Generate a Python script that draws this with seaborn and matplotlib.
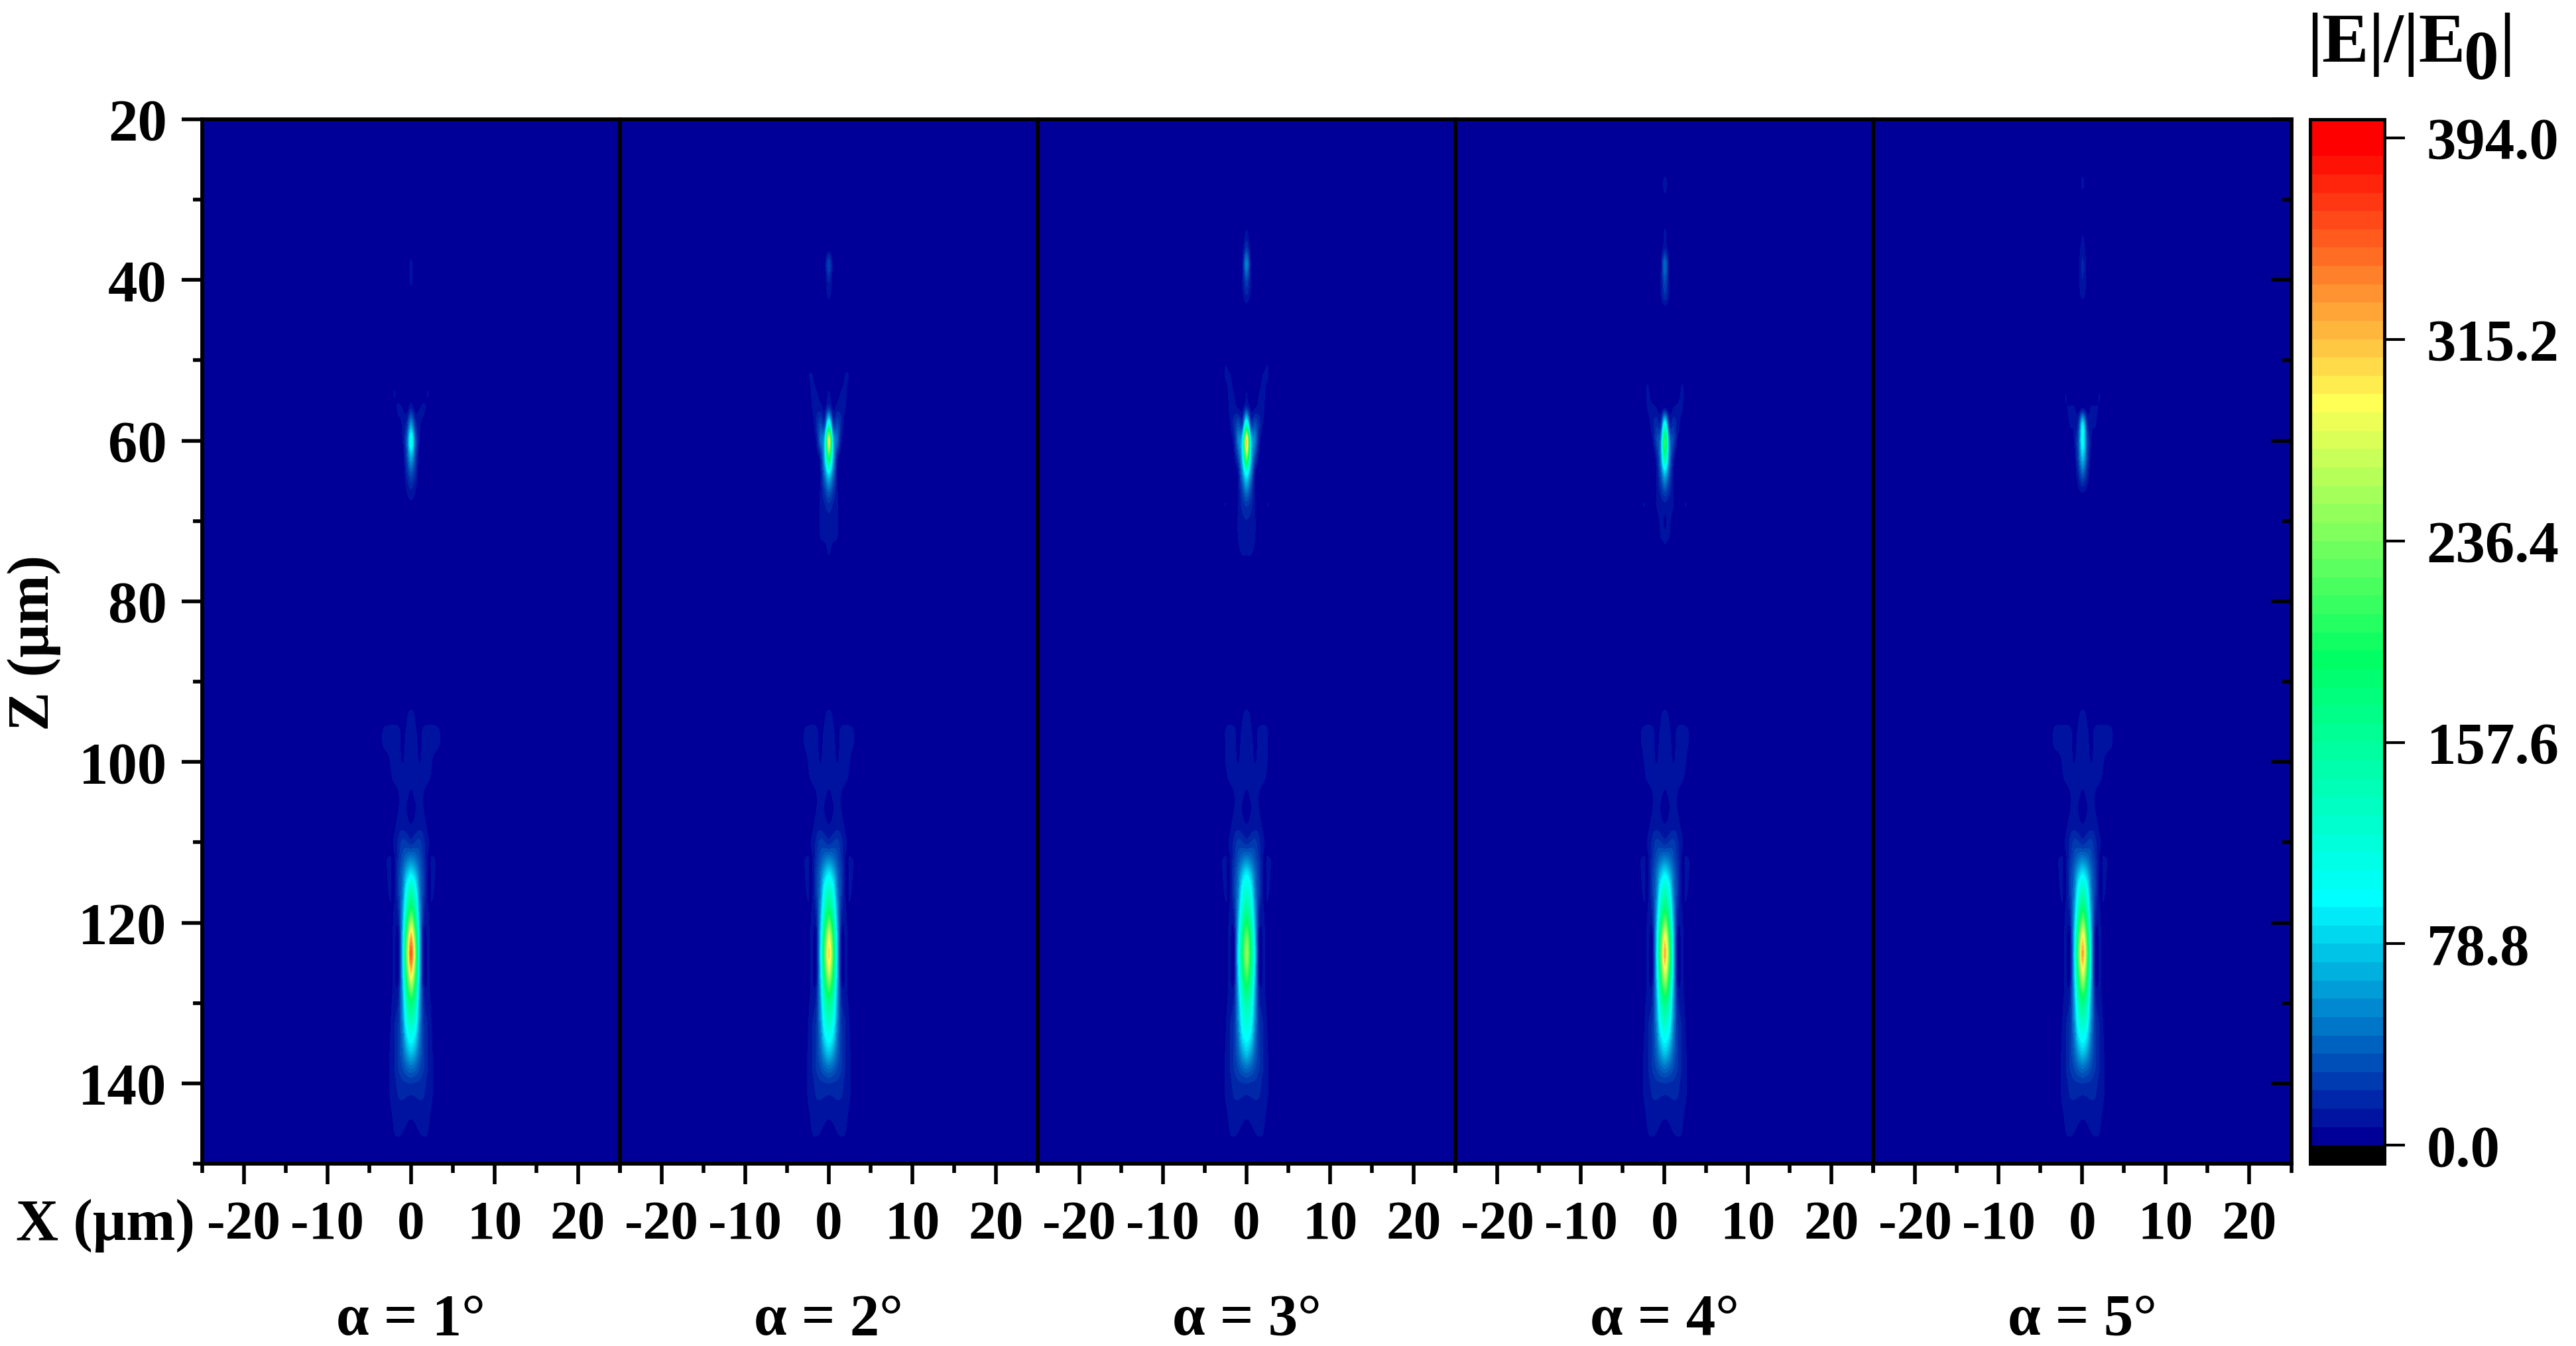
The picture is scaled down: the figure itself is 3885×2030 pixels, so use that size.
import numpy as np
import matplotlib
matplotlib.use("Agg")
import matplotlib.pyplot as plt
from matplotlib.colors import ListedColormap, BoundaryNorm
from matplotlib.ticker import FixedLocator, NullFormatter
import seaborn as sns

W, H, DPI = 3885, 2030, 100

ALPHA_LABELS = ["α = 1°", "α = 2°", "α = 3°", "α = 4°", "α = 5°"]
X_MAJOR = [-20, -10, 0, 10, 20]
X_MINOR = [-25, -15, -5, 5, 15, 25]
X_LABELS = ["-20", "-10", "0", "10", "20"]
Z_MAJOR = [20, 40, 60, 80, 100, 120, 140]
Z_MINOR = [30, 50, 70, 90, 110, 130, 150]
CBAR_TICKS = [0.0, 78.8, 157.6, 236.4, 315.2, 394.0]
CBAR_LABELS = ["0.0", "78.8", "157.6", "236.4", "315.2", "394.0"]

# |x| columns of every field table, micrometres
ABS_X = [0, 0.5, 1, 1.5, 2, 2.5, 3, 3.5, 4]

LOWER_ROWS = {
    92: [2, 1],
    94: [8.5, 6],
    96: [9.5, 8, 5, 8.5, 10, 9.5, 9, 6],
    98: [10, 9, 6, 9, 10, 10, 9, 6],
    100: [10, 9.5, 7, 9, 10, 7.2, 2],
    102: [9, 9.5, 10, 10, 9, 5],
    104: [6.5, 8, 9, 7, 3, 1],
    106: [5, 7, 9, 7.2, 2],
    108: [8, 10, 12, 11, 5, 1],
    110: [18, 22, 24, 16, 9, 2],
    112: [50, 44, 32, 20, 6.5, 7.8, 6],
    114: [93, 75, 44, 24, 6.5, 8, 6],
    116: [145, 110, 50, 24, 6.5, 8, 5],
    118: [195, 145, 60, 20, 7.5, 6.5, 2],
    120: [270, 190, 70, 13, 9, 3],
    122: [345, 235, 80, 7.5, 9, 3],
    124: [375, 255, 85, 5, 8.5, 3.5],
    126: [330, 230, 80, 6, 8.5, 4],
    128: [260, 190, 70, 12, 8.5, 5],
    130: [190, 150, 62, 18, 10, 5.5],
    132: [150, 120, 56, 22, 13, 6],
    134: [110, 90, 48, 24, 14, 7],
    136: [80, 65, 40, 24, 14, 8],
    138: [46, 40, 30, 22, 14, 8.5, 1],
    140: [22, 21, 20, 17, 12, 8.5, 1],
    142: [12.5, 13.5, 14.5, 14, 11, 7.5, 0.5],
    144: [8, 9, 11, 11, 9.5, 4.5],
    146: [5, 5.5, 7.5, 8.5, 7.5, 1.5],
    148: [2, 2, 3, 4, 3],
}
LOWER_TABLE_PEAK = 375.0
LOWER_PEAKS = [355, 305, 250, 320, 325]
# Outer rim of the lower focus at z = 96, 98 for |x| = 2.5, 3, 3.5
LOWER_RIMS = [[9.5, 9, 6], [9, 6.5, 1], [7.3, 1, 0], [8.5, 5.5, 1], [9.5, 9.5, 7]]

# Upper focus and the faint spots above it, one table per panel
UPPER_P1 = {
    36: [2], 38: [9], 40: [9.5], 42: [3],
    54: [3, 0, 0, 2, 7.5, 1],
    56: [14, 4, 7, 8.5, 4],
    58: [60, 20, 9, 4],
    60: [112, 38, 8],
    62: [70, 30, 2],
    64: [35, 18, 1],
    66: [15, 9, 0.5],
    68: [5, 3],
}
UPPER_P2 = {
    36: [2], 38: [28, 5], 40: [16, 4], 42: [9, 2],
    50: [0, 0, 0, 0, 2, 3],
    52: [0, 0, 0, 2, 8, 6],
    54: [8, 1, 3, 8, 8.5, 1],
    56: [24, 6, 11, 11, 7],
    58: [125, 28, 30, 15, 2],
    60: [285, 80, 42, 9],
    62: [205, 75, 16, 3],
    64: [95, 48, 9],
    66: [45, 26, 8.5, 1],
    68: [20, 14, 9, 2],
    70: [12, 11, 8.5, 1.5],
    72: [10, 9, 7.5, 1],
    74: [8, 3, 1],
}
UPPER_P3 = {
    34: [8], 36: [22, 4], 38: [52, 9], 40: [30, 8.5], 42: [14, 6], 44: [1],
    50: [0, 0, 0, 0, 2, 6, 1],
    52: [0, 0, 0, 3, 8, 8],
    54: [7, 1, 2, 7, 9, 3],
    56: [22, 5, 7, 10, 9, 1],
    58: [130, 30, 32, 18, 6],
    60: [310, 90, 50, 13, 2],
    62: [240, 85, 30, 7],
    64: [110, 55, 10, 2],
    66: [55, 30, 8, 1],
    68: [24, 18, 7.5, 1, 2, 7.5, 1],
    70: [14, 12, 8, 1.5],
    72: [10, 10, 7.5, 1],
    74: [8, 8, 5],
    76: [1, 1],
}
UPPER_P4 = {
    28: [11], 30: [4],
    34: [8.5], 36: [12, 2], 38: [42, 7], 40: [32, 7.5], 42: [20, 7.5], 44: [1],
    52: [0, 0, 0, 0, 5, 5],
    54: [0, 0, 0, 2, 8.5, 3],
    56: [8, 2, 7.5, 9, 8.5, 1],
    58: [110, 22, 20, 12, 3],
    60: [205, 55, 28, 7],
    62: [165, 55, 14, 1],
    64: [80, 36, 8],
    66: [36, 20, 7.5],
    68: [12, 10, 7.5, 1, 3, 7.5],
    70: [6.5, 8.5, 4],
    72: [8, 7.5, 0.5],
    74: [5, 1],
}
UPPER_P5 = {
    28: [10],
    34: [6], 36: [10.5, 3], 38: [16, 5], 40: [14, 5], 42: [9, 4.5],
    54: [0, 0, 0, 0, 7],
    56: [8, 3, 7.8, 8, 6],
    58: [90, 22, 9, 8, 1],
    60: [105, 36, 8.5, 1],
    62: [78, 32, 4],
    64: [42, 18, 1.5],
    66: [12, 7],
}
UPPER_TABLES = [UPPER_P1, UPPER_P2, UPPER_P3, UPPER_P4, UPPER_P5]

# Colour scale: band index -> RGB
BAND_WIDTH = 7.165
N_BANDS = 56
BAND_ANCHOR_I = [0, 13, 26, 40, 54, 55]
BAND_ANCHOR_R = [0, 0, 0, 255, 255, 255]
BAND_ANCHOR_G = [0, 255, 255, 255, 0, 0]
BAND_ANCHOR_B = [153, 255, 100, 85, 0, 0]

sns.set_theme(style="white")
plt.rcParams["font.family"] = ["Liberation Serif", "DejaVu Serif"]
plt.rcParams["font.weight"] = "bold"
plt.rcParams["axes.unicode_minus"] = False

idx = np.arange(N_BANDS)
band_rgb = np.column_stack([np.interp(idx, BAND_ANCHOR_I, c) for c in
                            (BAND_ANCHOR_R, BAND_ANCHOR_G, BAND_ANCHOR_B)]) / 255
field_cmap = ListedColormap(band_rgb)
field_cmap.set_under(band_rgb[0])
field_cmap.set_over(band_rgb[-1])
levels = np.arange(N_BANDS + 1) * BAND_WIDTH
norm = BoundaryNorm(levels, N_BANDS)


def panel_field(i):
    z_grid = list(range(26, 152, 2))
    half = np.zeros((len(z_grid), len(ABS_X)))
    gain = (LOWER_PEAKS[i] - 93.0) / (LOWER_TABLE_PEAK - 93.0)
    for z, row in LOWER_ROWS.items():
        vals = np.array(row, float)
        vals = np.where(vals > 93, 93 + (vals - 93) * gain, vals)
        half[z_grid.index(z), :len(vals)] = vals
    for z in (96, 98):
        half[z_grid.index(z), 5:8] = LOWER_RIMS[i]
    for z, row in UPPER_TABLES[i].items():
        half[z_grid.index(z), :len(row)] = row
    return np.hstack([half[:, :0:-1], half])


def fx(px):
    return px / W


def fy(py):
    return 1 - py / H


fig = plt.figure(figsize=(W / DPI, H / DPI), dpi=DPI, facecolor="white")

LEFT, PANEL_W, TOP, BOTTOM = 304.5, 630.2, 180.0, 1755.0
SPINE = 4.2
TICK_W = 4.0
for i in range(5):
    ax = fig.add_axes([fx(LEFT + i * PANEL_W), fy(BOTTOM), PANEL_W / W, (BOTTOM - TOP) / H])
    ax.set_facecolor(band_rgb[0])
    ax.imshow(panel_field(i), cmap=field_cmap, norm=norm, aspect="auto",
              extent=(-4.25, 4.25, 151, 25), interpolation="catrom",
              interpolation_stage="data")
    ax.set_xlim(-25, 25)
    ax.set_ylim(150, 20)
    for s in ax.spines.values():
        s.set_color("black")
        s.set_linewidth(SPINE)
    ax.xaxis.set_major_locator(FixedLocator(X_MAJOR))
    ax.xaxis.set_minor_locator(FixedLocator(X_MINOR))
    ax.set_xticklabels(X_LABELS)
    ax.tick_params(axis="x", which="major", bottom=True, length=22, width=TICK_W,
                   color="black", labelsize=60, pad=18, labelcolor="black")
    ax.tick_params(axis="x", which="minor", bottom=True, length=10, width=TICK_W, color="black")
    ax.xaxis.set_minor_formatter(NullFormatter())
    ax.yaxis.set_major_locator(FixedLocator(Z_MAJOR))
    ax.yaxis.set_minor_locator(FixedLocator(Z_MINOR))
    if i == 0:
        ax.set_yticklabels([str(v) for v in Z_MAJOR])
        ax.tick_params(axis="y", which="major", left=True, length=22, width=TICK_W,
                       color="black", labelsize=64, pad=16, labelcolor="black")
        ax.tick_params(axis="y", which="minor", left=True, length=10, width=TICK_W, color="black")
    elif i == 4:
        ax.tick_params(axis="y", which="major", left=False, right=True, direction="in",
                       length=22, width=TICK_W, color="black", labelleft=False)
        ax.tick_params(axis="y", which="minor", left=False, right=True, direction="in",
                       length=10, width=TICK_W, color="black")
    else:
        ax.tick_params(axis="y", which="both", left=False, right=False, labelleft=False)
    ax.yaxis.set_minor_formatter(NullFormatter())
    fig.text(fx(619.5 + i * 630.25), fy(2013), ALPHA_LABELS[i], ha="center", va="baseline",
             fontsize=64, fontweight="bold", color="black")

fig.text(fx(24), fy(1870), "X (μm)", ha="left", va="baseline", fontsize=64,
         fontweight="bold", color="black")
fig.text(fx(52), fy(969), "Z (μm)", ha="center", va="center", rotation=90, fontsize=64,
         fontweight="bold", color="black", rotation_mode="anchor")

# Colour bar: one black row below zero, then the bands
cax = fig.add_axes([fx(3483.5), fy(BOTTOM), 112.0 / W, (BOTTOM - TOP) / H])
bar_rows = np.arange(N_BANDS + 1)[:, None]
sns.heatmap(bar_rows, ax=cax, cbar=False, xticklabels=False, yticklabels=False,
            cmap=ListedColormap(np.vstack([[0, 0, 0], band_rgb])),
            vmin=-0.5, vmax=N_BANDS + 0.5)
cax.set_ylim(0, N_BANDS + 1)
for s in cax.spines.values():
    s.set_visible(True)
    s.set_color("black")
    s.set_linewidth(3.6)
cax.yaxis.tick_right()
cax.set_yticks([v / BAND_WIDTH + 1 for v in CBAR_TICKS])
cax.set_yticklabels(CBAR_LABELS, rotation=0)
cax.tick_params(axis="y", right=True, left=False, length=22, width=3.0, color="black",
                labelsize=64, pad=24, labelcolor="black")
cax.set_xticks([])

TITLE_SIZE = 76
fig.text(fx(3479), fy(92.5), "|E|/|E", ha="left", va="baseline", fontsize=TITLE_SIZE,
         fontweight="bold", color="black")
fig.text(fx(3716), fy(118.5), "0", ha="left", va="baseline", fontsize=TITLE_SIZE,
         fontweight="bold", color="black")
fig.text(fx(3769), fy(92.5), "|", ha="left", va="baseline", fontsize=TITLE_SIZE,
         fontweight="bold", color="black")

fig.savefig("out.png", dpi=DPI, facecolor="white")
